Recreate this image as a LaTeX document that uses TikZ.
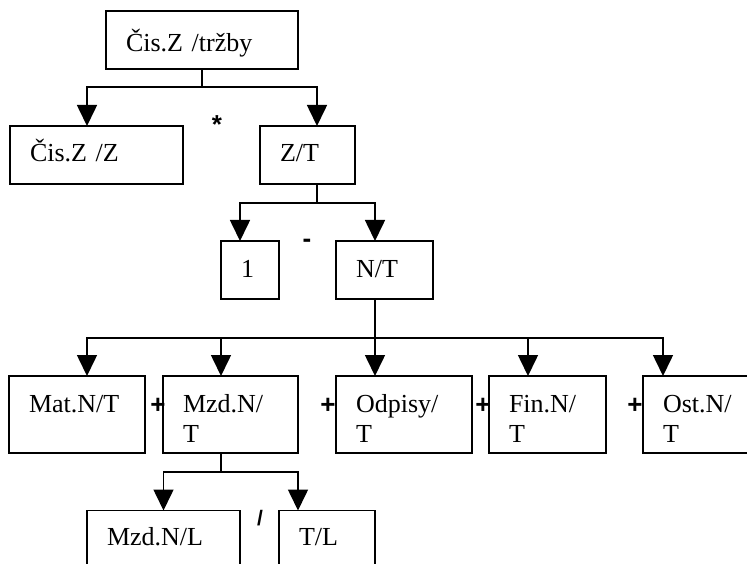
\documentclass[tikz,border=0pt]{standalone}
\usepackage{fontspec}
\setmainfont{Liberation Serif}
\newfontfamily\opfont{Liberation Sans}
\usetikzlibrary{arrows.meta,positioning}

\begin{document}
\begin{tikzpicture}[x=1pt,y=-1pt,
  box/.style={draw,line width=1.6pt,outer sep=0pt,inner xsep=20pt,inner ysep=0pt,
              align=left,font=\fontsize{26pt}{30pt}\selectfont,text height=36pt},
  low/.style={text depth=22pt},
  high/.style={text depth=41pt},
  op/.style={font=\opfont\bfseries\fontsize{26pt}{30pt}\selectfont,inner sep=0pt},
  conn/.style={line width=1.6pt},
  arr/.style={conn,-{Triangle[length=21pt,width=20pt]}}]
  \useasboundingbox (0,0) rectangle (747,564);
  \clip (0,0) rectangle (747,564);
  % ratio tree
  \node[box,text height=41pt,text depth=17pt,text width=152pt] (top) at (202,40) {Čis.Z /tržby};
  \node[box,low,text width=133pt] (czz) at (96.5,155) {Čis.Z /Z};
  \node[box,low,text width=55pt,right=77pt of czz] (zt) {Z/T};
  \node[box,low,text width=18pt] (one) at (250,270) {1};
  \node[box,low,text width=57pt,right=57pt of one] (nt) {N/T};
  \node[box,high,text width=96pt] (mat) at (77,414.5) {Mat.N/T};
  \node[box,high,text width=95pt,right=18pt of mat] (mzd) {Mzd.N/\\T};
  \node[box,high,text width=96pt,right=38pt of mzd] (odp) {Odpisy/\\T};
  \node[box,high,text width=77pt,right=17pt of odp] (fin) {Fin.N/\\T};
  \node[box,high,text width=96pt,right=37pt of fin] (ost) {Ost.N/\\T};
  \node[box,high,text height=35pt,text width=113pt] (mzl) at (163.5,548.5) {Mzd.N/L};
  \node[box,high,text height=35pt,text width=56pt,right=39pt of mzl] (tl) {T/L};
  % operators between the boxes
  \node[op] (times) at (217,125) {*};
  \node[op] (minus) at (307,243) {-};
  \node[op] (plus1) at (158,406) {+};
  \node[op] (plus2) at (328,406) {+};
  \node[op] (plus3) at (483,406) {+};
  \node[op] (plus4) at (635,406) {+};
  \node[op,font=\opfont\bfseries\fontsize{21pt}{24pt}\selectfont] (div) at (260,518) {/};
  % connectors
  \draw[conn] (top.south) -- ++(0,18) coordinate (b1);
  \draw[arr] (b1) -| ([xshift=-9.5pt]czz.north);
  \draw[arr] (b1) -| ([xshift=9.5pt]zt.north);
  \draw[conn] ([xshift=9.5pt]zt.south) -- ++(0,19) coordinate (b2);
  \draw[arr] (b2) -| ([xshift=-10pt]one.north);
  \draw[arr] (b2) -| ([xshift=-9.5pt]nt.north);
  \draw[conn] ([xshift=-9.5pt]nt.south) -- ++(0,39) coordinate (b3);
  \draw[arr] (b3) -| ([xshift=10pt]mat.north);
  \draw[arr] (b3) -| ([xshift=-9.5pt]mzd.north);
  \draw[arr] (b3) -| ([xshift=-29pt]odp.north);
  \draw[arr] (b3) -| ([xshift=-19.5pt]fin.north);
  \draw[arr] (b3) -| ([xshift=20pt]ost.north west);
  \draw[conn] ([xshift=-9.5pt]mzd.south) -- ++(0,19) coordinate (b4);
  \draw[arr] (b4) -| (mzl.north);
  \draw[arr] (b4) -| ([xshift=-29pt]tl.north);
\end{tikzpicture}
\end{document}
